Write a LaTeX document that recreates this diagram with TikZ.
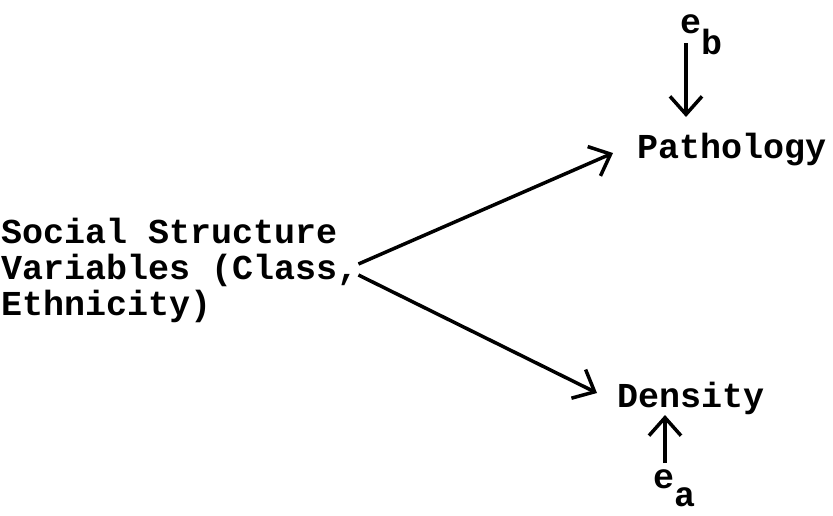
\documentclass[tikz,border=0pt]{standalone}
\usepackage{fontspec}
\newfontfamily\tw{Liberation Mono}
\usetikzlibrary{arrows.meta,calc}
\begin{document}
\begin{tikzpicture}[x=1pt,y=-1pt,
  lbl/.style={font=\tw\bfseries\fontsize{35}{36}\selectfont, inner sep=0pt, anchor=base west},
  conn/.style={line width=3.5pt, -{Straight Barb[length=18pt,width=32pt,line width=3.5pt]}}]
\useasboundingbox (0,0) rectangle (833,515);
\node[lbl, anchor=west, align=left] (social) at (1,270) {Social Structure\\Variables (Class,\\Ethnicity)};
\node[lbl] (path) at (637,158) {Pathology};
\node[lbl] (dens) at (617,407) {Density};
\node[lbl] (eb) at (680,33) {e\raisebox{-21pt}{b}};
\node[lbl] (ea) at (653,488) {e\raisebox{-18pt}{a}};
\draw[conn] ($(social.east)+(0,-6)$) -- ($(path.base west)+(-24,-5)$);
\draw[conn] ($(social.east)+(0,5)$) -- ($(dens.base west)+(-20,-14)$);
\draw[conn] ($(eb.base west)+(6,10)$) -- ($(path.base west)+(49,-41)$);
\draw[conn] ($(ea.base west)+(12,-25)$) -- ($(dens.base west)+(48,8)$);
\end{tikzpicture}
\end{document}
